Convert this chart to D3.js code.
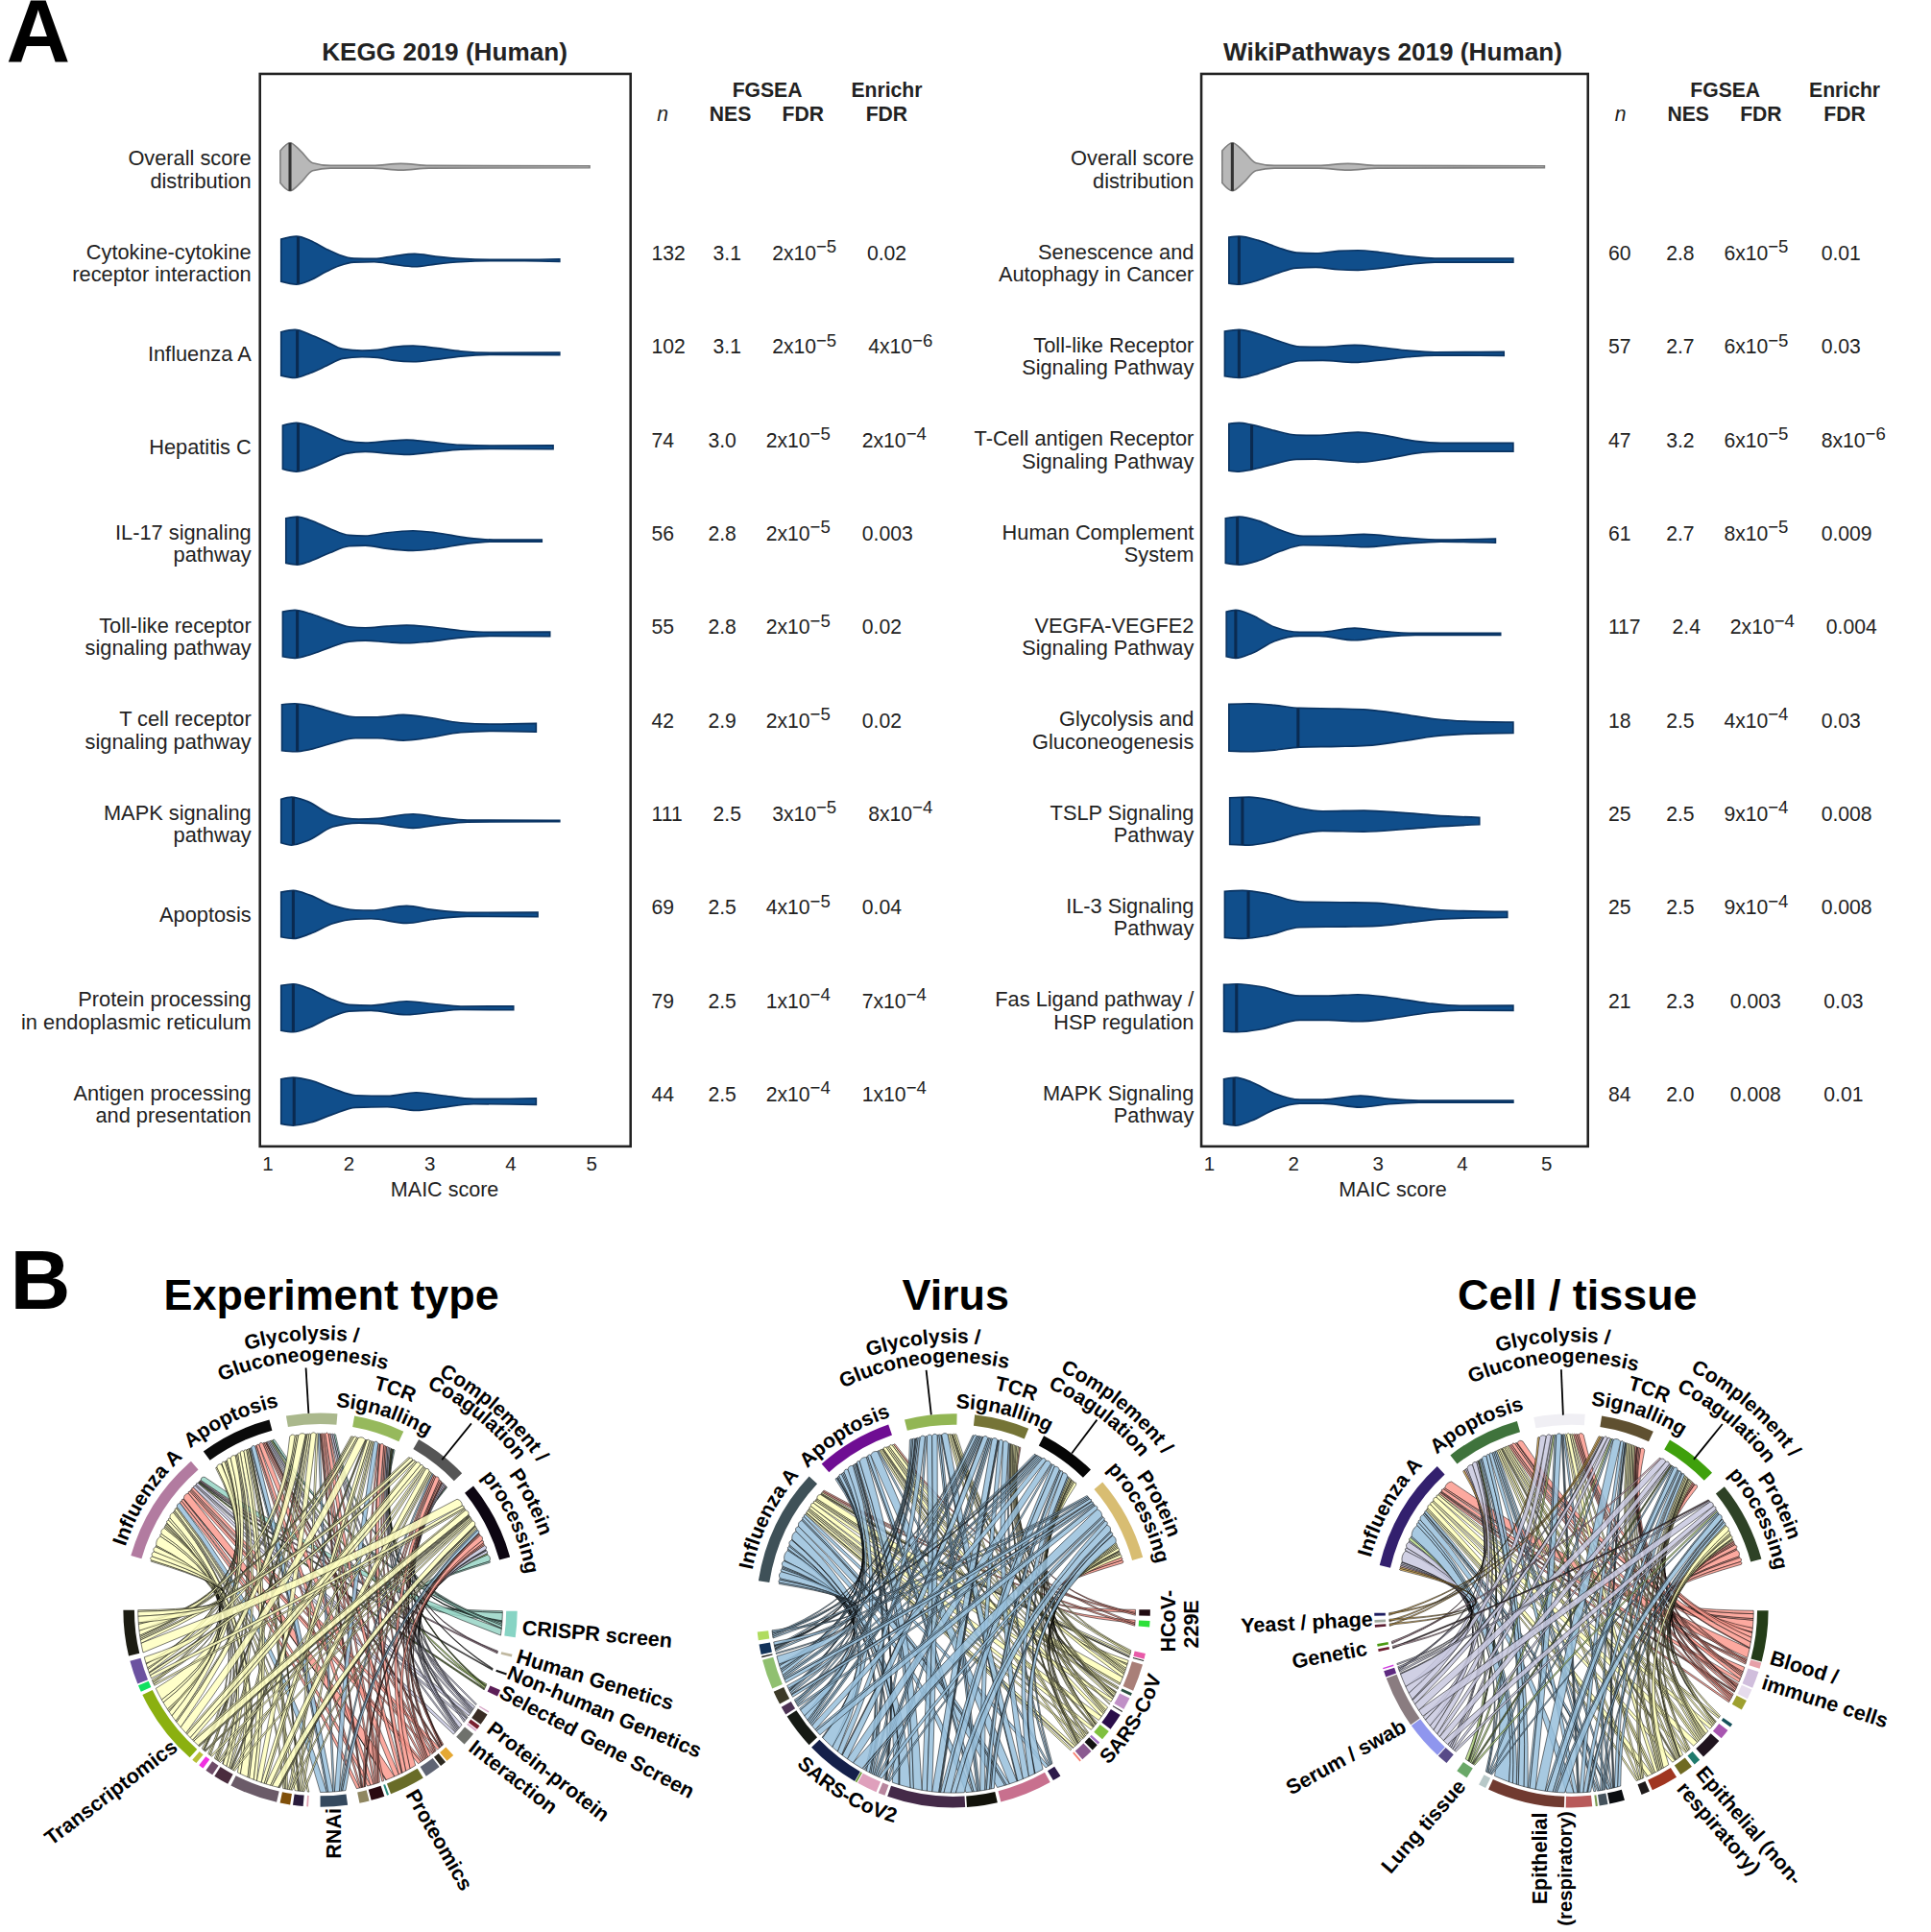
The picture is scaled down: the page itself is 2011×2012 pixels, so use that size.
<!DOCTYPE html>
<html><head><meta charset="utf-8">
<script src="https://cdn.jsdelivr.net/npm/d3@7"></script>
<style>
html,body{margin:0;padding:0;background:#fff}
text{font-family:"Liberation Sans",Arial,sans-serif;fill:#222}
</style></head><body>
<svg id="chart" width="2011" height="2012" viewBox="0 0 1568 1569"></svg>
<script>
// ---------- Panel A data ----------
const keggNames = [["Overall score","distribution"],["Cytokine-cytokine","receptor interaction"],["Influenza A"],["Hepatitis C"],["IL-17 signaling","pathway"],["Toll-like receptor","signaling pathway"],["T cell receptor","signaling pathway"],["MAPK signaling","pathway"],["Apoptosis"],["Protein processing","in endoplasmic reticulum"],["Antigen processing","and presentation"]];
const wikiNames = [["Overall score","distribution"],["Senescence and","Autophagy in Cancer"],["Toll-like Receptor","Signaling Pathway"],["T-Cell antigen Receptor","Signaling Pathway"],["Human Complement","System"],["VEGFA-VEGFE2","Signaling Pathway"],["Glycolysis and","Gluconeogenesis"],["TSLP Signaling","Pathway"],["IL-3 Signaling","Pathway"],["Fas Ligand pathway /","HSP regulation"],["MAPK Signaling","Pathway"]];
const keggN = ["132","102","74","56","55","42","111","69","79","44"];
const keggNES = ["3.1","3.1","3.0","2.8","2.8","2.9","2.5","2.5","2.5","2.5"];
const keggFDR = ["2x10^−5","2x10^−5","2x10^−5","2x10^−5","2x10^−5","2x10^−5","3x10^−5","4x10^−5","1x10^−4","2x10^−4"];
const keggEnrichr = ["0.02","4x10^−6","2x10^−4","0.003","0.02","0.02","8x10^−4","0.04","7x10^−4","1x10^−4"];
const wikiN = ["60","57","47","61","117","18","25","25","21","84"];
const wikiNES = ["2.8","2.7","3.2","2.7","2.4","2.5","2.5","2.5","2.3","2.0"];
const wikiFDR = ["6x10^−5","6x10^−5","6x10^−5","8x10^−5","2x10^−4","4x10^−4","9x10^−4","9x10^−4","0.003","0.008"];
const wikiEnrichr = ["0.01","0.03","8x10^−6","0.009","0.004","0.03","0.008","0.008","0.03","0.01"];
const keggMedians = [1.28,1.38,1.37,1.38,1.37,1.37,1.37,1.32,1.32,1.32,1.33];
const wikiMedians = [1.28,1.36,1.36,1.51,1.34,1.32,2.06,1.40,1.47,1.33,1.30];
// violin outlines: [MAIC score, density]
const keggViolins = [
 [[1.16,50],[1.28,75],[1.41,50],[1.56,12],[1.78,4],[2.3,4],[2.65,10],[3.0,4],[4.98,3]],
 [[1.17,66],[1.36,75],[1.53,62],[1.73,35],[1.89,17],[2.07,6],[2.32,5],[2.56,13],[2.82,20],[3.08,12],[3.39,5],[3.79,2],[4.18,2],[4.61,4]],
 [[1.17,68],[1.34,75],[1.53,60],[1.73,38],[1.93,15],[2.17,10],[2.36,12],[2.56,21],[2.80,25],[3.08,18],[3.39,8],[3.79,3],[4.61,4]],
 [[1.19,68],[1.36,76],[1.53,66],[1.73,45],[1.97,20],[2.21,14],[2.48,19],[2.72,23],[3.0,17],[3.39,7],[3.79,5],[4.53,6]],
 [[1.23,70],[1.37,75],[1.53,64],[1.77,38],[2.01,17],[2.21,15],[2.48,25],[2.80,31],[3.08,25],[3.47,9],[3.79,3],[4.39,3]],
 [[1.19,70],[1.34,75],[1.53,64],[1.77,42],[2.01,23],[2.21,20],[2.48,25],[2.72,28],[3.0,23],[3.39,11],[3.79,6],[4.49,7]],
 [[1.18,72],[1.34,75],[1.53,68],[1.81,48],[2.09,33],[2.36,33],[2.68,40],[2.96,33],[3.39,15],[3.79,11],[4.32,13]],
 [[1.17,68],[1.30,75],[1.49,62],[1.81,18],[2.13,6],[2.36,8],[2.80,22],[3.11,12],[3.47,3],[4.61,2]],
 [[1.17,70],[1.32,75],[1.53,60],[1.81,28],[2.09,14],[2.28,13],[2.72,27],[3.04,15],[3.47,6],[4.34,7]],
 [[1.17,70],[1.32,75],[1.53,60],[1.77,30],[2.01,10],[2.28,8],[2.72,21],[3.08,12],[3.39,5],[4.04,6]],
 [[1.17,70],[1.32,75],[1.53,66],[1.81,40],[2.09,19],[2.48,17],[2.84,28],[3.15,19],[3.55,8],[4.32,10]]
];
const wikiViolins = [
 [[1.16,50],[1.28,75],[1.41,50],[1.56,12],[1.78,4],[2.3,4],[2.65,10],[3.0,4],[4.98,3]],
 [[1.24,72],[1.36,75],[1.59,62],[1.82,40],[2.04,24],[2.27,22],[2.54,29],[2.77,31],[3.03,25],[3.37,13],[3.68,6],[4.61,6]],
 [[1.19,70],[1.36,75],[1.59,62],[1.85,38],[2.08,22],[2.35,21],[2.73,27],[3.03,20],[3.37,10],[3.68,5],[4.5,6]],
 [[1.24,73],[1.36,76],[1.51,70],[1.78,52],[2.04,38],[2.27,37],[2.77,47],[3.07,38],[3.45,19],[3.75,13],[4.61,13]],
 [[1.2,70],[1.36,75],[1.59,62],[1.85,33],[2.12,14],[2.54,16],[2.84,20],[3.3,10],[3.75,3],[4.4,6]],
 [[1.21,70],[1.32,75],[1.51,60],[1.78,22],[2.08,6],[2.31,6],[2.73,19],[3.03,10],[3.45,3],[4.46,3]],
 [[1.24,73],[1.48,75],[1.78,70],[2.08,61],[2.54,59],[2.88,56],[3.3,42],[3.68,27],[4.05,20],[4.61,17]],
 [[1.25,73],[1.48,75],[1.74,65],[2.08,40],[2.35,31],[2.84,33],[3.3,26],[3.68,18],[4.21,11]],
 [[1.19,72],[1.4,75],[1.7,65],[2.08,40],[2.61,38],[2.99,36],[3.37,25],[3.75,14],[4.54,9]],
 [[1.18,73],[1.34,75],[1.63,66],[2.08,38],[2.42,38],[2.77,42],[3.14,33],[3.6,15],[3.98,7],[4.61,8]],
 [[1.18,70],[1.32,75],[1.51,60],[1.78,25],[2.08,6],[2.35,6],[2.8,18],[3.14,8],[3.49,3],[4.61,3]]
];
const maicTicks = [1,2,3,4,5];

// ---------- Panel B data ----------
const pathwayColorsExp = ["#b27ba0","#0a0a0a","#aab88c","#96b95c","#555555","#0d0612"];
const pathwayColorsVirus = ["#3f5158","#6f0d93","#92b654","#757436","#060606","#d8bd72"];
const pathwayColorsCell = ["#33206e","#3f733c","#f0eff4","#5f5030","#3fa00c","#2e4226"];
const pathwaySizesExp = [33,21.4,15,15,16,23.4];
const pathwaySizesVirus = [34.3,22.7,15.4,16.2,16.9,25];
const pathwaySizesCell = [33.8,21.9,15,15.7,15.6,23.8];
const segmentSizesExp = [7.7,.8,.6,2,.4,3.5,1.2,.5,4,2.5,1.8,4.7,10.5,.6,4,2.9,8,.5,3,3,14.2,4.5,2.3,1.5,1.5,23,2,7,13.5];
const segmentColorsExp = ["#87d4c4","#c0b8a0","#111111","#5b1e57","#d8a8c8","#3a2c24","#7a2030","#d8a8c8","#6f716c","#e5a833","#2e2a20","#5f6473","#696c28","#2d8f80","#2a0a10","#8f8660","#34495e","#e0a0b0","#2a1c3c","#80500a","#6b5b68","#4a2c3e","#6e4c68","#f030e0","#b8c038","#8bb010","#10e060","#6c52a0","#1c1c12"];
const ribbonColorsExp = ["#98d5c6","#b08ca0","#444","#a8cc70","#c8c8df","#c8c8df","#c8c8df","#c8c8df","#c8c8df","#fb9a8e","#fb9a8e","#fb9a8e","#fb9a8e","#fb9a8e","#fb9a8e","#fb9a8e","#98c0dc","#ffffc0","#ffffc0","#ffffc0","#ffffc0","#ffffc0","#ffffc0","#ffffc0","#ffffc0","#ffffc0","#ffffc0","#ffffc0","#ffffc0"];
const linksExp = [
[4,2,1,1,1,6],[1,0,0,0,1,0],[1,0,0,1,0,0],[1,1,0,1,0,1],[0,1,0,0,0,0],[2,1,1,1,1,2],[1,0,0,0,0,1],[0,0,0,1,0,0],[2,1,1,1,1,3],[2,1,0,1,1,1],[1,1,0,0,1,1],[3,1,1,1,1,2],[6,3,2,3,3,4],[0,0,1,0,0,0],[2,2,1,1,1,1],[2,1,1,0,1,1],[4,4,1,3,1,3],[1,0,0,0,0,0],[2,1,1,1,0,1],[1,2,0,1,1,1],[8,5,3,3,4,5],[3,2,1,1,1,1],[1,1,1,0,1,1],[1,1,0,0,0,1],[1,0,1,0,0,1],[16,8,5,5,6,6],[1,1,0,1,0,1],[4,3,1,2,2,2],[8,5,3,2,3,6]];
const segmentSizesVirus = [1.8,1.8,1.6,.3,8.1,.8,3.6,.3,5,3,.7,2,3.5,.5,2.5,15.5,9,23,2,6,.5,16,10.5,2.5,4,8.8,.4,3,2.5];
const segmentColorsVirus = ["#200a10","#2ee03a","#e85aa8","#222","#a97f78","#2a5040","#c090c6","#222","#2a0e4a","#80c040","#a070c0","#111111","#8a5a90","#f88070","#2d1a4a","#c8708e","#12120a","#442a48","#b8869e","#dfa0bc","#6a9a30","#14204a","#161a14","#4d3355","#3c3a28","#90c070","#222","#12335a","#b0dc60"];
const ribbonColorsVirus = ["#fb9a8e","#fb9a8e","#ffffb8","#ffffb8","#ffffb8","#ffffb8","#ffffb8","#ffffb8","#ffffb8","#ffffb8","#ffffb8","#ffffb8","#ffffb8","#ffffb8","#98c0dc","#98c0dc","#98c0dc","#98c0dc","#98c0dc","#98c0dc","#98c0dc","#98c0dc","#98c0dc","#98c0dc","#98c0dc","#98c0dc","#98c0dc","#98c0dc","#98c0dc"];
const linksVirus = [
[1,0,0,1,0,2],[1,1,0,0,0,2],[1,1,0,1,0,0],[1,0,0,0,0,0],[5,2,2,2,2,3],[1,0,0,0,0,1],[2,1,1,1,1,1],[0,1,0,0,0,0],[3,2,1,1,1,2],[2,1,0,1,1,1],[1,0,0,0,0,1],[1,1,0,0,1,1],[2,1,1,1,1,1],[1,0,0,0,0,0],[2,1,0,1,1,0],[8,5,4,4,4,6],[4,3,2,3,3,3],[11,7,6,5,6,8],[1,1,0,1,0,1],[3,2,1,2,1,2],[0,0,0,0,0,1],[8,4,3,4,4,6],[5,3,2,2,3,4],[1,1,0,1,1,1],[2,1,1,1,1,2],[5,3,2,2,2,3],[1,0,0,0,0,0],[2,1,0,1,1,1],[1,1,1,0,1,1]];
const segmentSizesCell = [15,1.8,5,3,3,1,3,6.5,2,4,8,2.5,4.5,2.5,.6,7.7,22.8,2.2,3.5,3.2,11.5,15.3,1.8,.4,.8,.8,.8,.8,.8];
const segmentColorsCell = ["#243c18","#e6a0a8","#d0bedc","#e6dcec","#9ea030","#16505a","#a856b0","#20141f","#1f7a6c","#6f6a22","#a03520","#1f1a1a","#0a0d10","#44525c","#7a9a50","#b85a5a","#703a30","#b8c8c8","#6aa868","#574a88","#8f96ee","#8a7c80","#5e2a80","#d040e0","#6a1c2c","#4a9a10","#5a1c30","#a0aaa0","#1c1c60"];
const ribbonColorsCell = ["#fb9a8e","#fb9a8e","#fb9a8e","#fb9a8e","#fb9a8e","#ffffb8","#ffffb8","#ffffb8","#ffffb8","#ffffb8","#ffffb8","#ffffb8","#98c0dc","#98c0dc","#98c0dc","#98c0dc","#98c0dc","#98c0dc","#b8d888","#c8c8df","#c8c8df","#c8c8df","#c8c8df","#c8c8df","#e8c0d0","#e8c0d0","#f0c060","#f0c060","#f0c060"];
const linksCell = [
[6,4,3,3,3,11],[1,1,0,1,0,1],[2,2,1,1,1,3],[1,1,1,1,1,1],[1,1,1,1,0,2],[1,0,0,0,0,1],[2,1,0,1,1,1],[3,2,1,1,2,3],[1,1,0,1,0,1],[2,1,1,1,1,2],[4,2,2,2,2,4],[1,1,1,0,1,1],[2,1,1,1,2,2],[1,1,0,1,1,1],[0,1,0,0,0,0],[4,2,1,2,2,2],[12,6,4,5,5,5],[1,1,0,1,1,1],[2,1,1,1,1,1],[1,1,1,0,1,1],[6,3,3,2,3,3],[8,4,4,3,4,4],[1,1,0,1,0,1],[1,0,0,0,0,0],[1,0,0,0,0,1],[0,1,0,0,1,0],[1,0,0,1,0,0],[1,0,1,0,0,0],[0,1,0,1,0,0]];

// ---------- layout settings (not data) ----------
const pathwayGapsExp=[4.6,5,5,5,5,0], pathwayGapsVirus=[5.1,4.9,5.2,4.9,5,0], pathwayGapsCell=[5,5,4.9,5.4,5.4,0];
const segmentGapsExp=[5,4.9,4.7,5,.6,.5,.3,1,4.5,.5,.5,1,.6,.8,.6,3.5,3.5,1,.8,1,1,.7,1,1,1,1,.5,1.5,0];
const segmentGapsVirus=[1.5,7.8,.4,1,.8,.8,.7,1,.8,1.2,.3,.5,.5,7,1,1,.5,.8,.7,.3,.2,1,.7,1,1,.7,.5,1.2,0];
const segmentGapsCell=[.3,1,.5,.6,5,1.2,1,1.4,1,1.4,.9,5.2,.5,.5,1,.5,.9,4,3.8,.3,.3,.4,.6,4.9,.7,4.8,.6,1.2,0];
// how one link is drawn as thinner strands, in link units
const strandPattern=[6,1,4,.5,8,2,5,1,3];

const svg=d3.select("#chart");
function letter(t,x,y,s){svg.append("text").attr("x",x).attr("y",y).attr("font-size",s).attr("font-weight","bold").style("fill","#000").text(t);}
letter("A",5,50,72);letter("B",8,1063,68);

// ---------- Panel A ----------
function rich(sel,s){
  const p=s.split("^");sel.append("tspan").text(p[0]);
  if(p[1])sel.append("tspan").attr("dy",-6).attr("font-size",14.5).text(p[1]);
}
const rowY=i=>d3.scalePoint().domain(d3.range(11)).range([135.5,894.5])(i);
const densityScale=d3.scaleLinear().domain([0,75]).range([0,19.5]);
function panel(o){
  const g=svg.append("g");
  const x=d3.scaleLinear().domain([1,5]).range(o.xr);
  g.append("rect").attr("x",o.box[0]).attr("y",60).attr("width",o.box[1]-o.box[0]).attr("height",871).attr("fill","none").attr("stroke","#222").attr("stroke-width",2);
  g.append("text").attr("x",o.titleX).attr("y",49).attr("text-anchor","middle").attr("font-size",20.4).attr("font-weight","bold").text(o.title);
  const ax=g.append("g").attr("transform","translate(0,931)").call(d3.axisBottom(x).tickValues(maicTicks).tickSize(0).tickPadding(8).tickFormat(d3.format("d")));
  ax.select(".domain").remove();
  ax.selectAll("text").attr("font-size",16).style("font-family",'"Liberation Sans",Arial,sans-serif').style("fill","#222");
  g.append("text").attr("x",o.titleX).attr("y",972).attr("text-anchor","middle").attr("font-size",16.8).text("MAIC score");
  o.violins.forEach((v,i)=>{
    const y0=rowY(i),gray=i===0;
    const area=d3.area().x(d=>x(d[0])).y0(d=>y0-densityScale(d[1])).y1(d=>y0+densityScale(d[1])).curve(d3.curveMonotoneX);
    g.append("path").attr("d",area(v)+"Z").attr("fill",gray?"#b8b8b8":"#104e8b").attr("stroke",gray?"#808080":"#0a3463").attr("stroke-width",1.3);
    const med=o.medians[i];
    const seg=v.findIndex(d=>d[0]>=med);
    const a=v[Math.max(seg-1,0)],b=v[seg];
    const t=b[0]===a[0]?0:(med-a[0])/(b[0]-a[0]);
    const h=densityScale(a[1]+(b[1]-a[1])*t);
    g.append("line").attr("x1",x(med)).attr("x2",x(med)).attr("y1",y0-h).attr("y2",y0+h).attr("stroke",gray?"#333":"#0a2a50").attr("stroke-width",2.4);
    o.names[i].forEach((l,k,arr)=>{
      const ly=arr.length===1?y0+6:(k===0?y0-1:y0+17);
      g.append("text").attr("x",o.labelX).attr("y",ly).attr("text-anchor","end").attr("font-size",17).text(l);
    });
    if(i>0){
      const r=i-1,ty=y0;
      [[o.n,o.nx],[o.nes,o.nesx],[o.fdr,o.fdrx],[o.enr,o.enrx]].forEach(([arr,xs])=>{
        const t=g.append("text").attr("x",xs[r]).attr("y",ty).attr("font-size",16.5);
        rich(t,arr[r]);
      });
    }
  });
  const head=(t,xx,yy,st)=>{g.append("text").attr("x",xx).attr("y",yy).attr("text-anchor","middle").attr("font-size",16.5).attr("font-weight",st?"normal":"bold").attr("font-style",st?"italic":"normal").text(t);};
  head("FGSEA",o.hx[0],79);head("Enrichr",o.hx[1],79);head("n",o.hx[2],98,1);head("NES",o.hx[3],98);head("FDR",o.hx[4],98);head("FDR",o.hx[1],98);
}
panel({title:"KEGG 2019 (Human)",titleX:361,box:[211,512],xr:[217,480],labelX:204,names:keggNames,violins:keggViolins,medians:keggMedians,
 n:keggN,nes:keggNES,fdr:keggFDR,enr:keggEnrichr,
 nx:[529,529,529,529,529,529,529,529,529,529],
 nesx:[579,579,575,575,575,575,579,575,575,575],
 fdrx:[627,627,622,622,622,622,627,622,622,622],
 enrx:[704,705,700,700,700,700,705,700,700,700],
 hx:[623,720,538,593,652]});
panel({title:"WikiPathways 2019 (Human)",titleX:1131,box:[975.5,1289.5],xr:[981.5,1255.5],labelX:969.5,names:wikiNames,violins:wikiViolins,medians:wikiMedians,
 n:wikiN,nes:wikiNES,fdr:wikiFDR,enr:wikiEnrichr,
 nx:[1306,1306,1306,1306,1306,1306,1306,1306,1306,1306],
 nesx:[1353,1353,1353,1353,1358,1353,1353,1353,1353,1353],
 fdrx:[1400,1400,1400,1400,1405,1400,1400,1400,1405,1405],
 enrx:[1479,1479,1479,1479,1483,1479,1479,1479,1481,1481],
 hx:[1401,1498,1316,1371,1430]});

// ---------- Panel B ----------
const rad=d3.scaleLinear().domain([0,360]).range([0,2*Math.PI]);
const polar=(t,r)=>[r*Math.sin(rad(t)),-r*Math.cos(rad(t))];
let uid=0;
function lay(sizes,gaps,start){let c=start;return sizes.map((s,i)=>{const a=c;c+=s;const r=[a,c];c+=gaps[i];return r;});}
// one strand: scalloped cap on the pathway side, arc on the segment side
function strandPath(s0,s1,t0,t1,rP,rS){
  const p=d3.path();
  const edge=(ta,ra,tb,rb)=>{
    const A=polar(ta,ra),B=polar(tb,rb);
    let sep=Math.abs(ta-tb)%360;if(sep>180)sep=360-sep;
    const k=.85*sep/180;
    p.quadraticCurveTo(k*(A[0]+B[0])/2,k*(A[1]+B[1])/2,B[0],B[1]);
  };
  const st=polar(s0,rP);p.moveTo(st[0],st[1]);
  const w=Math.abs(s1-s0),mid=(s0+s1)/2,ctrl=polar(mid,rP/Math.cos(rad(w/2))+Math.min(2.5,w*2)),en=polar(s1,rP);
  p.quadraticCurveTo(ctrl[0],ctrl[1],en[0],en[1]);
  edge(s1,rP,t0,rS);
  p.arc(0,0,rS,rad(t0)-Math.PI/2,rad(t1)-Math.PI/2);
  edge(t1,rS,s0,rP);
  p.closePath();
  return p.toString();
}
function chord(o){
  const g=svg.append("g").attr("transform",`translate(${o.cx},${o.cy})`);
  const P=lay(o.pSizes,o.pGaps,o.pStart),S=lay(o.sSizes,o.sGaps,o.sStart);
  const rowTot=d3.range(6).map(p=>d3.sum(o.links,c=>c[p]));
  const colTot=o.links.map(c=>d3.sum(c));
  const pStart={};
  d3.range(6).forEach(p=>{let a=P[p][0];const k=(P[p][1]-P[p][0])/rowTot[p];
    for(let c=o.links.length-1;c>=0;c--){const v=o.links[c][p];pStart[p+"_"+c]=[a,v*k];a+=v*k;}});
  o.links.forEach((col,c)=>{
    let a=S[c][0];const k=(S[c][1]-S[c][0])/colTot[c];
    for(let p=5;p>=0;p--){
      const v=col[p];
      if(!v)continue;
      const wS=v*k,[a0,wP]=pStart[p+"_"+c];
      let done=0,idx=c*7+p*3;
      while(done<v-1e-6){
        const step=Math.min(strandPattern[idx++%strandPattern.length],v-done);
        const f0=done/v,f1=(done+step)/v;
        g.append("path").attr("d",strandPath(a0+wP*f0,a0+wP*f1,a+wS*(1-f1),a+wS*(1-f0),o.rP,o.rS))
          .attr("fill",o.rColors[c]).attr("fill-opacity",.85).attr("stroke","#000").attr("stroke-width",.4);
        done+=step;
      }
      a+=wS;
    }
  });
  const arc=d3.arc().innerRadius(151).outerRadius(160);
  P.forEach((d,i)=>g.append("path").attr("d",arc({startAngle:rad(d[0]),endAngle:rad(d[1])})).attr("fill",o.pColors[i]));
  S.forEach((d,i)=>g.append("path").attr("d",arc({startAngle:rad(d[0]),endAngle:rad(d[1])})).attr("fill",o.sColors[i]));
  o.leaders.forEach(([r0,r1,t])=>{const a=polar(t,r0),b=polar(t,r1);
    g.append("line").attr("x1",a[0]).attr("y1",a[1]).attr("x2",b[0]).attr("y2",b[1]).attr("stroke","#000").attr("stroke-width",1.4);});
  o.arcLabels.forEach(([t,r,th,low])=>{
    const id="lab"+(uid++),p=d3.path(),R=low?r+5.6:r-2.6,s=rad(th)-Math.PI/2,span=1.3;
    if(low)p.arc(0,0,R,s+span,s-span,true);else p.arc(0,0,R,s-span,s+span,false);
    g.append("path").attr("id",id).attr("d",p.toString()).attr("fill","none");
    g.append("text").attr("font-size",16.5).attr("font-weight","bold").style("fill","#000").attr("text-anchor","middle")
      .append("textPath").attr("href","#"+id).attr("startOffset","50%").text(t);
  });
  o.lineLabels.forEach(([t,dx,dy,rot,anc,fs])=>{
    g.append("text").attr("transform",`translate(${dx},${dy}) rotate(${rot})`).attr("dy","0.35em").attr("font-size",fs||16.8).attr("font-weight","bold").style("fill","#000").attr("text-anchor",anc||"start").text(t);
  });
  svg.append("text").attr("x",o.titleX).attr("y",1064).attr("text-anchor","middle").attr("font-size",35).attr("font-weight","bold").style("fill","#000").text(o.title);
}
chord({title:"Experiment type",titleX:269,cx:260,cy:1307.5,rP:143,rS:148,pStart:-74,sStart:90.3,
 pSizes:pathwaySizesExp,pGaps:pathwayGapsExp,pColors:pathwayColorsExp,sSizes:segmentSizesExp,sGaps:segmentGapsExp,sColors:segmentColorsExp,rColors:ribbonColorsExp,links:linksExp,
 leaders:[[160,197,-3.4],[157,195,39]],
 arcLabels:[["Influenza A",169,-57],["Apoptosis",171,-25.2],["Glycolysis /",222,-3.9],["Gluconeogenesis",205,-4],["TCR",187,18.7],["Signalling",168,18],["Complement /",216,41.4],["Coagulation",203,39.2],["Protein",191,62.9],["processing",172,65.3]],
 lineLabels:[["CRISPR screen",164,14,5],["Human Genetics",160,37,17],["Non-human Genetics",153,50,22.6],["Selected Gene Screen",147,65.5,28],["Protein-protein",138,94,38],["Interaction",123,109,38],["Proteomics",74,147,60],["RNAi",11,202,-90],["Transcriptomics",-222,187,-37]]});
chord({title:"Virus",titleX:776,cx:774,cy:1308,rP:143,rS:148,pStart:-81.3,sStart:89.7,
 pSizes:pathwaySizesVirus,pGaps:pathwayGapsVirus,pColors:pathwayColorsVirus,sSizes:segmentSizesVirus,sGaps:segmentGapsVirus,sColors:segmentColorsVirus,rColors:ribbonColorsVirus,links:linksVirus,
 leaders:[[160,196.5,-6.4],[160,194,37]],
 arcLabels:[["Influenza A",169,-63.6],["Apoptosis",168,-31.8],["Glycolysis /",220,-6.4],["Gluconeogenesis",204,-6.8],["TCR",185,15.9],["Signalling",167,14.5],["Complement /",215,38.8],["Coagulation",199,36.9],["Protein",187,62.6],["processing",172,62.2],["SARS-CoV2",173,210.5,1],["SARS-CoV",172,121.3,1]],
 lineLabels:[["HCoV-",174.7,8.5,-90,"middle"],["229E",193.2,11,-90,"middle"]]});
chord({title:"Cell / tissue",titleX:1281,cx:1276,cy:1308,rP:143,rS:148,pStart:-76.7,sStart:90,
 pSizes:pathwaySizesCell,pGaps:pathwayGapsCell,pColors:pathwayColorsCell,sSizes:segmentSizesCell,sGaps:segmentGapsCell,sColors:segmentColorsCell,rColors:ribbonColorsCell,links:linksCell,
 leaders:[[159,196,-2.4],[158,195,39]],
 arcLabels:[["Influenza A",171,-60.4],["Apoptosis",170,-27],["Glycolysis /",221,-3.9],["Gluconeogenesis",204,-4.2],["TCR",188,19.4],["Signalling",170,18.9],["Complement /",219.6,40.8],["Coagulation",200.6,39.3],["Protein",188,63.4],["processing",171,63.9]],
 lineLabels:[["Blood /",162,37.6,17],["immune cells",155.4,57.7,17.6],["Epithelial (non-",104.9,128.7,49],["respiratory)",89.4,141.4,49],["Epithelial",-25.9,164,-90,"end"],["(respiratory)",-5,163,-90,"end",15.8],["Lung tissue",-151.2,210.6,-49],["Serum / swab",-230.4,145,-29],["Genetic",-226.7,41.3,-10.3],["Yeast / phage",-268.4,12.2,-3]]});
</script></body></html>
